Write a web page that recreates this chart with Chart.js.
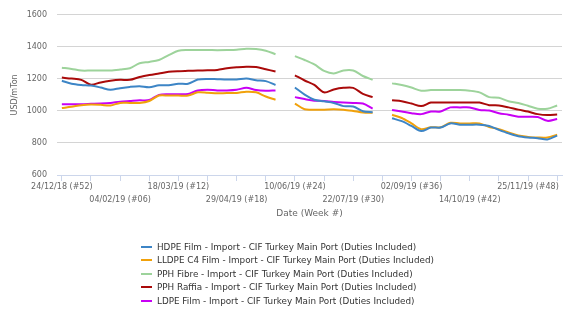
<!DOCTYPE html>
<html>
<head>
<meta charset="utf-8">
<script src="https://cdn.jsdelivr.net/npm/chart.js@4/dist/chart.umd.min.js"></script>
<style>
  html, body { margin: 0; padding: 0; background: #fff; }
  #wrap { position: relative; width: 576px; height: 330px; }
  #legend { position: absolute; left: 141px; top: 240px; font-family: "DejaVu Sans", sans-serif; font-size: 8.8px; color: #333; }
  .item { height: 13.5px; display: flex; align-items: center; white-space: nowrap; }
  .swatch { width: 11px; height: 2px; margin-right: 5px; }
</style>
</head>
<body>
<div id="wrap">
  <canvas id="c" width="576" height="330"></canvas>
  <div id="legend"></div>
</div>
<script>
const weeks = ['24/12/18 (#52)','31/12/18 (#01)','07/01/19 (#02)','14/01/19 (#03)','21/01/19 (#04)','28/01/19 (#05)',
  '04/02/19 (#06)','11/02/19 (#07)','18/02/19 (#08)','25/02/19 (#09)','04/03/19 (#10)','11/03/19 (#11)',
  '18/03/19 (#12)','25/03/19 (#13)','01/04/19 (#14)','08/04/19 (#15)','15/04/19 (#16)','22/04/19 (#17)',
  '29/04/19 (#18)','06/05/19 (#19)','13/05/19 (#20)','20/05/19 (#21)','27/05/19 (#22)','03/06/19 (#23)',
  '10/06/19 (#24)','17/06/19 (#25)','24/06/19 (#26)','01/07/19 (#27)','08/07/19 (#28)','15/07/19 (#29)',
  '22/07/19 (#30)','29/07/19 (#31)','05/08/19 (#32)','12/08/19 (#33)','19/08/19 (#34)','26/08/19 (#35)',
  '02/09/19 (#36)','09/09/19 (#37)','16/09/19 (#38)','23/09/19 (#39)','30/09/19 (#40)','07/10/19 (#41)',
  '14/10/19 (#42)','21/10/19 (#43)','28/10/19 (#44)','04/11/19 (#45)','11/11/19 (#46)','18/11/19 (#47)',
  '25/11/19 (#48)','02/12/19 (#49)','09/12/19 (#50)','16/12/19 (#51)'];

const hdpeFilm = [1188,1170,1162,1158,1146,1132,1142,1150,1154,1148,1160,1160,1170,1170,1196,1200,1198,1196,
  1196,1202,1192,1186,1162,null,1146,1102,1070,1060,1050,1030,1028,998,992,null,
  954,936,906,874,896,896,922,914,914,914,906,882,860,842,834,830,822,846];
const lldpeC4Film = [1018,1026,1036,1040,1038,1034,1050,1050,1050,1062,1096,1096,1096,1096,1116,1114,1110,1112,
  1112,1120,1116,1090,1070,null,1046,1010,1008,1008,1010,1008,1000,990,988,null,
  976,956,922,886,898,898,926,922,922,922,900,886,866,846,838,834,834,852];
const pphFibre = [1270,1262,1252,1252,1252,1252,1258,1266,1298,1306,1318,1348,1376,1380,1380,1380,1379,1380,
  1382,1388,1386,1376,1354,null,1342,1318,1290,1250,1234,1252,1252,1218,1194,null,
  1172,1162,1146,1126,1130,1130,1130,1130,1126,1116,1086,1082,1060,1050,1032,1014,1014,1034];
const pphRaffia = [1208,1202,1194,1164,1178,1188,1194,1194,1212,1224,1234,1244,1248,1250,1252,1254,1256,1266,
  1272,1276,1274,1260,1246,null,1222,1190,1162,1116,1134,1144,1144,1106,1086,null,
  1066,1060,1046,1030,1052,1052,1052,1052,1052,1052,1036,1034,1022,1008,996,980,974,978];
const ldpeFilm = [1042,1042,1042,1044,1046,1050,1058,1062,1066,1068,1100,1104,1104,1106,1128,1132,1128,1128,
  1132,1144,1130,1126,1128,null,1086,1074,1064,1062,1056,1052,1050,1046,1014,null,
  1006,996,986,980,996,996,1022,1022,1022,1006,1002,986,976,964,964,962,938,950];

const seriesNames = [
  'HDPE Film - Import - CIF Turkey Main Port (Duties Included)',
  'LLDPE C4 Film - Import - CIF Turkey Main Port (Duties Included)',
  'PPH Fibre - Import - CIF Turkey Main Port (Duties Included)',
  'PPH Raffia - Import - CIF Turkey Main Port (Duties Included)',
  'LDPE Film - Import - CIF Turkey Main Port (Duties Included)'
];
const seriesColors = ['#3d85c6', '#f1a10a', '#9dd39b', '#aa0a0a', '#c800f5'];
const seriesData = [hdpeFilm, lldpeC4Film, pphFibre, pphRaffia, ldpeFilm];

const yTicks = [600, 800, 1000, 1200, 1400, 1600];

const FONT = '"DejaVu Sans", sans-serif';

const chart = new Chart(document.getElementById('c'), {
  type: 'line',
  data: {
    labels: weeks,
    datasets: seriesNames.map((n, k) => ({
      label: n,
      data: seriesData[k],
      borderColor: seriesColors[k],
      backgroundColor: seriesColors[k],
      borderWidth: 2,
      pointRadius: 0,
      tension: 0.3,
      spanGaps: false,
      fill: false
    }))
  },
  options: {
    responsive: false,
    animation: false,
    layout: { padding: { left: 0, right: 14, top: 6, bottom: 110 } },
    plugins: { legend: { display: false }, tooltip: { enabled: false } },
    scales: {
      x: {
        offset: true,
        grid: {
          offset: false,
          drawOnChartArea: false,
          tickLength: 6,
          color: (ctx) => (ctx.index % 3 === 0 ? '#ccd6eb' : 'rgba(0,0,0,0)')
        },
        border: { color: '#ccd6eb' },
        ticks: {
          autoSkip: false,
          maxRotation: 0,
          minRotation: 0,
          padding: 0,
          color: '#666',
          font: { family: FONT, size: 8, lineHeight: 1.5625 },
          callback: function (val, idx) {
            if (idx % 6 !== 0) return '';
            const lab = weeks[idx];
            return (idx / 6) % 2 === 0 ? [lab, ''] : ['', lab];
          }
        },
        title: {
          display: true,
          text: 'Date (Week #)',
          color: '#666',
          font: { family: FONT, size: 9 },
          padding: { top: 0, bottom: 1 }
        },
        afterFit: (s) => { s.height = 45; }
      },
      y: {
        min: 600,
        max: 1600,
        afterBuildTicks: (s) => { s.ticks = yTicks.map(v => ({ value: v })); },
        grid: {
          drawTicks: false,
          color: (ctx) => (ctx.tick && ctx.tick.value === 600 ? 'rgba(0,0,0,0)' : '#d4d4d4')
        },
        border: { display: false },
        ticks: {
          padding: 10,
          color: '#666',
          font: { family: FONT, size: 8 },
          callback: (v) => String(v)
        },
        title: {
          display: true,
          text: 'USD/mTon',
          color: '#666',
          font: { family: FONT, size: 8 },
          padding: { top: 10, bottom: 0 }
        },
        afterFit: (s) => { s.width = 57; }
      }
    }
  }
});

const legendEl = document.getElementById('legend');
chart.data.datasets.forEach(ds => {
  const row = document.createElement('div');
  row.className = 'item';
  const sw = document.createElement('span');
  sw.className = 'swatch';
  sw.style.background = ds.borderColor;
  const tx = document.createElement('span');
  tx.textContent = ds.label;
  row.appendChild(sw);
  row.appendChild(tx);
  legendEl.appendChild(row);
});
</script>
</body>
</html>
